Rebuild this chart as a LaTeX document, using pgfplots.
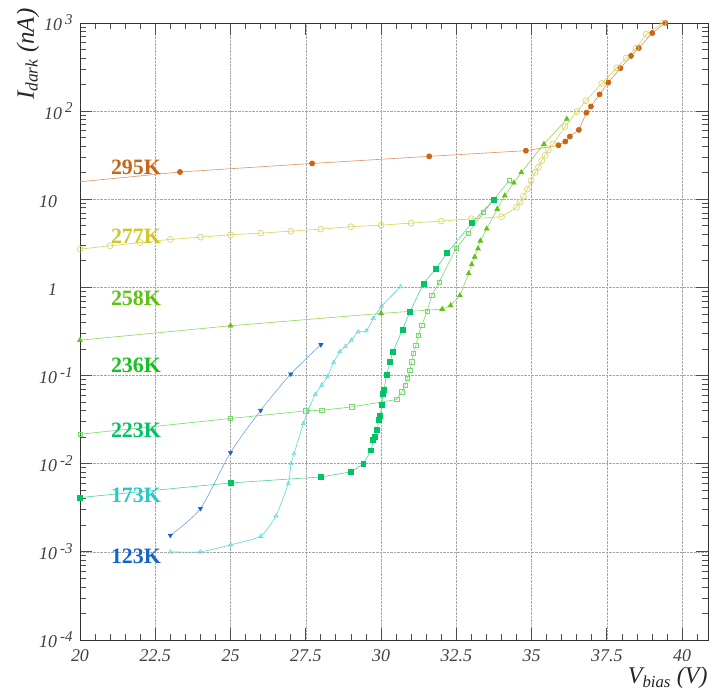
\documentclass[border=0pt]{standalone}
\usepackage{fontspec}
\setmainfont{Liberation Serif}
\usepackage{pgfplots}
\pgfplotsset{compat=1.18}
\definecolor{c295}{RGB}{205,100,20}
\definecolor{c277}{RGB}{205,200,40}
\definecolor{c277m}{RGB}{215,215,110}
\definecolor{c258}{RGB}{95,195,20}
\definecolor{c236}{RGB}{20,195,30}
\definecolor{c236m}{RGB}{120,215,110}
\definecolor{c223}{RGB}{0,195,100}
\definecolor{c173}{RGB}{40,200,200}
\definecolor{c173m}{RGB}{90,215,215}
\definecolor{c123}{RGB}{20,100,200}
\newcommand{\ex}[1]{\,\raisebox{0.75ex}{\fontsize{15}{15}\selectfont #1}}
\newcommand{\exph}{\phantom{\ex{-1}}}
\begin{document}
\begin{tikzpicture}
\begin{axis}[
  scale only axis, width=628bp, height=617bp,
  xmin=20, xmax=40.86, ymode=log, ymin=1e-4, ymax=1e3,
  axis line style={black!80, line width=0.6bp},
  tick pos=both, tick align=inside,
  major tick length=12bp, minor tick length=6bp,
  every tick/.append style={draw=black!70, line width=0.8bp},
  xtick={20,22.5,25,27.5,30,32.5,35,37.5,40},
  xticklabels={20,22.5,25,27.5,30,32.5,35,37.5,40},
  minor xtick={20.5,21,21.5,22,23,23.5,24,24.5,25.5,26,26.5,27,28,28.5,29,29.5,30.5,31,31.5,32,33,33.5,34,34.5,35.5,36,36.5,37,38,38.5,39,39.5,40.5},
  ytick={1e-4,1e-3,1e-2,1e-1,1,10,100,1000},
  yticklabels={10\ex{-4},10\ex{-3},10\ex{-2},10\ex{-1},1\exph,10\exph,10\ex{2},10\ex{3}},
  ticklabel style={font=\fontsize{18}{18}\selectfont\itshape, text=black!75},
  yticklabel style={xshift=-4bp},
  xticklabel style={yshift=-6bp},
  xmajorgrids, ymajorgrids, major grid style={densely dotted, black!35, line width=0.5bp},
  every axis plot/.append style={line width=0.6bp},
]
% 295K
\addplot[c295!70, mark=*, mark phase=2, mark repeat=1, mark options={fill=c295, draw=c295, scale=1}, mark size=2.6] coordinates {
(20,15.8) (23.32,20.4) (27.71,25.5) (31.6,30.7) (34.81,35.6) (35.89,41.0) (36.12,45.2) (36.27,51.5) (36.57,61.3) (36.82,96) (36.97,113) (37.26,155) (37.55,211) (37.95,307) (38.30,423) (38.56,520) (39.01,770) (39.44,1000)};
% 277K
\addplot[c277!80, mark=o, mark options={draw=c277m, line width=0.7bp}, mark size=3] coordinates {
(20,2.72) (21,2.97) (22,3.23) (23,3.51) (24,3.72) (25,3.96) (26,4.13) (27,4.35) (28,4.59) (29,4.88) (30,5.09) (31,5.37) (32,5.66) (33,6.01) (34,6.35) (34.5,8.1) (34.62,9.3) (34.73,10.8) (34.86,13.0) (34.98,16.2) (35.12,20.3) (35.23,23.2) (35.34,27.5) (35.45,31.5) (35.56,36.2) (35.71,42.5) (36.11,66.5) (36.51,99) (36.8,131) (37.33,206) (37.83,311) (38.14,400) (38.47,520) (38.81,745) (39.37,1000)};
% 258K
\addplot[c258!70, mark=triangle*, mark options={fill=c258, draw=c258}, mark size=2.8] coordinates {
(20,0.252) (25,0.367) (30,0.507) (32.03,0.568) (32.31,0.625) (32.62,0.81) (32.91,1.44) (33.01,1.82) (33.11,2.22) (33.22,2.76) (33.30,3.38) (33.51,4.63) (33.86,7.74) (34.11,11.0) (34.41,15.4) (34.66,20.2) (35.41,42.3) (36.17,81.5)};
% 236K
\addplot[c236m, mark=square, mark options={draw=c236m, line width=0.6bp}, mark size=2.2] coordinates {
(20,0.0216) (25,0.0326) (27.5,0.0398) (28.03,0.0404) (29.03,0.0441) (30.52,0.0535) (30.69,0.0653) (30.8,0.0778) (30.87,0.0927) (30.96,0.115) (31.02,0.143) (31.07,0.178) (31.16,0.221) (31.24,0.288) (31.35,0.37) (31.53,0.535) (31.68,0.81) (31.93,1.15) (32.49,2.77) (32.89,4.1) (33.40,7.1) (34.26,16.4)};
% 223K
\addplot[c223!70, mark=square*, mark options={fill=c223, draw=c223}, mark size=2.5] coordinates {
(20,0.00413) (25,0.00605) (28,0.00708) (29,0.00807) (29.41,0.0100) (29.67,0.0142) (29.74,0.0185) (29.80,0.0202) (29.86,0.024) (29.93,0.0315) (29.97,0.0346) (30.02,0.0461) (30.07,0.0615) (30.10,0.0696) (30.18,0.101) (30.3,0.143) (30.39,0.184) (30.71,0.333) (30.96,0.53) (31.41,1.11) (31.82,1.63) (32.2,2.47) (33.02,5.4) (33.75,9.97)};
% 173K
\addplot[c173m, smooth, tension=0.3, mark=triangle, mark options={draw=c173m, line width=0.6bp}, mark size=2.3] coordinates {
(23,0.00100) (24,0.00100) (25,0.00120) (26,0.00150) (26.51,0.00256) (26.92,0.0060) (27.01,0.0100) (27.11,0.0130) (27.42,0.0286) (27.58,0.0405) (27.81,0.061) (28.03,0.078) (28.22,0.097) (28.42,0.140) (28.63,0.187) (28.82,0.215) (29.01,0.252) (29.24,0.313) (29.51,0.320) (29.74,0.445) (30.02,0.614) (30.65,1.02)};
% 123K
\addplot[c123!60, smooth, tension=0.45, mark=triangle*, mark options={fill=c123, draw=c123, rotate=180}, mark size=2.4] coordinates {
(23,0.00154) (24,0.0031) (25,0.0134) (26,0.0402) (27,0.104) (28,0.224)};
% labels
\node[font=\fontsize{22}{22}\selectfont\bfseries, text=c295] at (axis cs:21.86,23.2) {295K};
\node[font=\fontsize{22}{22}\selectfont\bfseries, text=c277] at (axis cs:21.86,3.82) {277K};
\node[font=\fontsize{22}{22}\selectfont\bfseries, text=c258] at (axis cs:21.86,0.757) {258K};
\node[font=\fontsize{22}{22}\selectfont\bfseries, text=c236] at (axis cs:21.86,0.131) {236K};
\node[font=\fontsize{22}{22}\selectfont\bfseries, text=c223] at (axis cs:21.86,0.024) {223K};
\node[font=\fontsize{22}{22}\selectfont\bfseries, text=c173] at (axis cs:21.86,0.00438) {173K};
\node[font=\fontsize{22}{22}\selectfont\bfseries, text=c123] at (axis cs:21.86,0.00089) {123K};
\end{axis}
\node[rotate=90, anchor=east, font=\fontsize{25}{25}\selectfont\itshape, text=black!85] at ([xshift=-52bp,yshift=18bp]current axis.north west) {I\textsubscript{dark} (nA)};
\node[anchor=east, font=\fontsize{24}{24}\selectfont\itshape, text=black!85] at ([xshift=3bp,yshift=-38bp]current axis.south east) {V\textsubscript{bias} (V)};
\pgfresetboundingbox
\path[use as bounding box] (current axis.south west) ++(-80bp,-57bp) rectangle ([xshift=4bp,yshift=23bp]current axis.north east);
\end{tikzpicture}
\end{document}
